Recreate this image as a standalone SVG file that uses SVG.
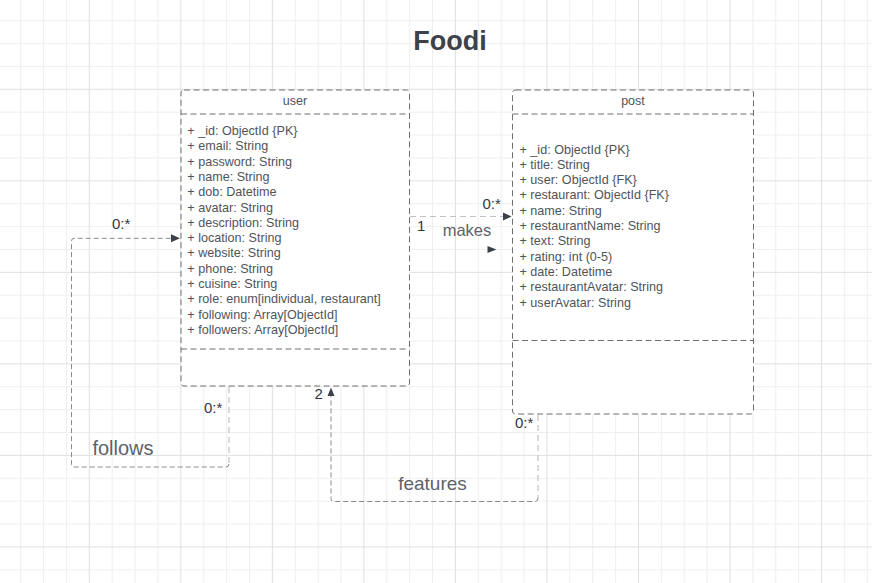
<svg xmlns="http://www.w3.org/2000/svg" width="872" height="583" viewBox="0 0 872 583">
<style>
.box{fill:#ffffff;stroke:#6f6f6f;stroke-width:1;stroke-dasharray:6,3.5}
.div{stroke:#6f6f6f;stroke-width:1;stroke-dasharray:6,3.5;fill:none}
.hd{font-family:"Liberation Sans",Arial,sans-serif;font-size:12.5px;fill:#4f545b;text-anchor:middle}
.at{font-family:"Liberation Sans",Arial,sans-serif;font-size:12.6px;fill:#4f545b}
.c1{fill:none;stroke:#c2c2c2;stroke-width:1.2;stroke-dasharray:6,4}
.c2{fill:none;stroke:#8a8a8a;stroke-width:1;stroke-dasharray:5,3}
.ah{fill:#3c4048}
.ml{font-family:"Liberation Sans",Arial,sans-serif;font-size:15px;fill:#333840}
.lb{font-family:"Liberation Sans",Arial,sans-serif;fill:#5d626a}
</style>
<defs>
<pattern id="grid" x="-2.7" y="-2.7" width="91.52" height="91.52" patternUnits="userSpaceOnUse">
<rect width="91.52" height="91.52" fill="#ffffff"/>
<path d="M23.38 0V91.52M46.26 0V91.52M69.14 0V91.52M0 23.38H91.52M0 46.26H91.52M0 69.14H91.52" stroke="#efefef" stroke-width="1"/>
<path d="M0.5 0V91.52M0 0.5H91.52" stroke="#e0e0e0" stroke-width="1"/>
</pattern>
</defs>
<rect width="872" height="583" fill="url(#grid)"/>
<text x="450" y="49.5" font-family="'Liberation Sans',Arial,sans-serif" font-size="27" font-weight="bold" fill="#3d424a" text-anchor="middle">Foodi</text>

<g id="connectors">
<g id="makes">
<path class="c1" d="M410 216.5H504"/>
<path class="ah" d="M503 212.5L511.5 216.5L503 220.5Z"/>
<path class="ah" d="M487.5 246L496.5 249.5L487.5 253Z"/>
<text class="ml" x="482.5" y="209">0:*</text>
<text class="ml" x="417" y="231" font-size="13">1</text>
<text class="lb" x="467" y="236" font-size="16.5" text-anchor="middle">makes</text>
</g>
<g id="follows">
<path class="c1" d="M229 387V464"/>
<path class="c2" d="M229 464Q229 467 226 467H74Q71.5 467 71.5 464V241Q71.5 238.3 74 238.3H172"/>
<path class="ah" d="M171 234.3L180 238.3L171 242.3Z"/>
<text class="ml" x="112" y="229">0:*</text>
<text class="ml" x="204" y="413">0:*</text>
<text class="lb" x="123" y="455" font-size="20" text-anchor="middle">follows</text>
</g>
<g id="features">
<path class="c1" d="M538 415V498"/>
<path class="c2" d="M538 498Q538 501.5 535 501.5H334Q331 501.5 331 498.5V396"/>
<path class="ah" d="M327.5 396L331 387.5L334.5 396Z"/>
<text class="ml" x="314.5" y="399">2</text>
<text class="ml" x="515" y="428">0:*</text>
<text class="lb" x="432.5" y="490" font-size="19" text-anchor="middle">features</text>
</g>
</g>

<g id="user">
<rect class="box" x="181" y="90" width="228.5" height="296" rx="3"/>
<path class="div" d="M181 114H409.5M181 349H409.5"/>
<text class="hd" x="295" y="105">user</text>
<text class="at" x="187.3" y="135">+ _id: ObjectId {PK}</text>
<text class="at" x="187.3" y="150.3">+ email: String</text>
<text class="at" x="187.3" y="165.6">+ password: String</text>
<text class="at" x="187.3" y="180.9">+ name: String</text>
<text class="at" x="187.3" y="196.2">+ dob: Datetime</text>
<text class="at" x="187.3" y="211.5">+ avatar: String</text>
<text class="at" x="187.3" y="226.8">+ description: String</text>
<text class="at" x="187.3" y="242.1">+ location: String</text>
<text class="at" x="187.3" y="257.4">+ website: String</text>
<text class="at" x="187.3" y="272.7">+ phone: String</text>
<text class="at" x="187.3" y="288">+ cuisine: String</text>
<text class="at" x="187.3" y="303.3">+ role: enum[individual, restaurant]</text>
<text class="at" x="187.3" y="318.6">+ following: Array[ObjectId]</text>
<text class="at" x="187.3" y="333.9">+ followers: Array[ObjectId]</text>
</g>

<g id="post">
<rect class="box" x="512.5" y="90" width="241" height="324" rx="3"/>
<path class="div" d="M512.5 114H753.5M512.5 340.5H753.5"/>
<text class="hd" x="633" y="105">post</text>
<text class="at" x="519.5" y="153.5">+ _id: ObjectId {PK}</text>
<text class="at" x="519.5" y="168.8">+ title: String</text>
<text class="at" x="519.5" y="184.1">+ user: ObjectId {FK}</text>
<text class="at" x="519.5" y="199.4">+ restaurant: ObjectId {FK}</text>
<text class="at" x="519.5" y="214.7">+ name: String</text>
<text class="at" x="519.5" y="230">+ restaurantName: String</text>
<text class="at" x="519.5" y="245.3">+ text: String</text>
<text class="at" x="519.5" y="260.6">+ rating: int (0-5)</text>
<text class="at" x="519.5" y="275.9">+ date: Datetime</text>
<text class="at" x="519.5" y="291.2">+ restaurantAvatar: String</text>
<text class="at" x="519.5" y="306.5">+ userAvatar: String</text>
</g>
</svg>
